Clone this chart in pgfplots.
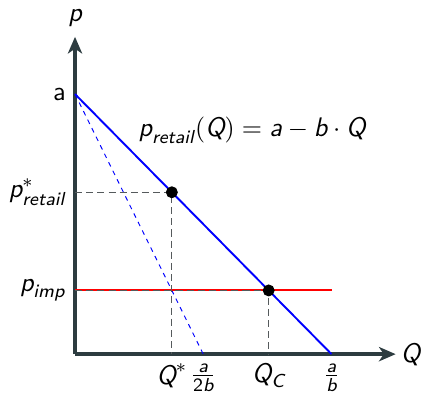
\documentclass[border=0pt]{standalone}
\usepackage{amsmath}
\usepackage{pgfplots}
\pgfplotsset{compat=1.18}
\usetikzlibrary{arrows.meta}
\renewcommand\familydefault{\sfdefault}
\newcommand\mi[1]{\textit{#1}}
\newcommand\tu[1]{\textup{#1}}
\definecolor{axgray}{RGB}{45,60,64}
\definecolor{dashgray}{RGB}{85,90,92}
\begin{document}
\fontsize{11.3}{13.5}\selectfont
\begin{tikzpicture}[font=\fontsize{11.3}{13.5}\selectfont]
\begin{axis}[
  x=10.8pt, y=10.95pt,
  xmin=0, xmax=12.5, ymin=0, ymax=12.2,
  axis lines=left,
  axis line style={axgray, line width=1.4pt, -{Stealth[length=7pt,width=6pt,inset=2pt]}},
  major tick length=0pt,
  tick label style={font=\fontsize{11.3}{13.5}\selectfont},
  label style={font=\fontsize{11.3}{13.5}\selectfont},
  xtick={3.775,5,7.55,10},
  xticklabels={$\mi{Q}^*$,$\frac{\mi{a}}{\tu{2}\mi{b}}$,$\mi{Q}_{\mi{C}}$,$\frac{\mi{a}}{\mi{b}}$},
  ytick={2.45,6.225,10},
  yticklabels={$\mi{p}_{\mi{imp}}$,$\mi{p}^*_{\mi{retail}}$,a},
  xlabel={$\mi{Q}$}, ylabel={$\mi{p}$},
  xlabel style={at={(axis description cs:1,0)}, anchor=west, inner sep=2pt},
  ylabel style={at={(axis description cs:0,1)}, anchor=south, rotate=-90, inner sep=4pt},
  clip=false,
]
\addplot[blue, line width=0.4pt, dash pattern=on 2pt off 2pt] coordinates {(0,10) (5,0)};
\addplot[red, line width=0.8pt] coordinates {(0,2.45) (10,2.45)};
\addplot[dashgray, line width=0.45pt, dash pattern=on 3pt off 1.7pt] coordinates {(0,6.225) (3.775,6.225) (3.775,0)};
\addplot[dashgray, line width=0.45pt, dash pattern=on 3pt off 1.7pt] coordinates {(0,2.45) (7.55,2.45) (7.55,0)};
\addplot[blue, line width=0.8pt] coordinates {(0,10) (10,0)};
\addplot[black, only marks, mark=*, mark size=2.3pt] coordinates {(3.775,6.225) (7.55,2.45)};
\node at (axis cs:6.9,8.6) {$\mi{p}_{\mi{retail}}(\mi{Q}) = \mi{a} - \mi{b}\cdot \mi{Q}$};
\end{axis}
\end{tikzpicture}
\end{document}
